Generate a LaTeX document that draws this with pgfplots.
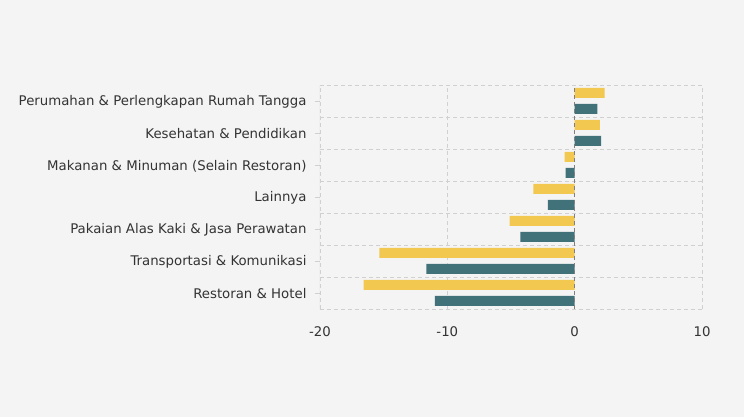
\documentclass[border=0pt]{standalone}
\usepackage{pgfplots}
\pgfplotsset{compat=1.18}
\usepackage{fontspec}
\setmainfont{DejaVu Sans}
\definecolor{bg}{RGB}{244,244,244}
\definecolor{yel}{RGB}{242,200,80}
\definecolor{tealc}{RGB}{65,114,122}
\definecolor{gridc}{RGB}{208,208,208}
\definecolor{txt}{RGB}{51,51,51}
\begin{document}
\begin{tikzpicture}[x=1pt,y=1pt]
\fill[bg] (0,0) rectangle (744,417);
\begin{axis}[at={(320pt,108pt)},anchor=south west, scale only axis,
  width=382pt, height=224pt,
  xmin=-20, xmax=10, ymin=-0.5, ymax=6.5,
  xtick={-20,-10,0,10},
  ytick={0,...,6},
  yticklabels={Restoran \& Hotel, Transportasi \& Komunikasi, Pakaian Alas Kaki \& Jasa Perawatan, Lainnya, Makanan \& Minuman (Selain Restoran), Kesehatan \& Pendidikan, Perumahan \& Perlengkapan Rumah Tangga},
  minor ytick={-0.5,0.5,...,6.5},
  xmajorgrids=true, yminorgrids=true, ymajorgrids=false,
  grid style={gridc, dash pattern=on 4pt off 3pt, line width=0.8pt},
  minor grid style={gridc, dash pattern=on 4pt off 3pt, line width=0.8pt},
  axis line style={draw=none},
  tick align=outside, ytick pos=left, xtick pos=bottom,
  major tick length=5pt, minor tick length=0pt,
  xtick style={draw=none},
  ytick style={gridc, line width=0.8pt},
  ticklabel style={font=\fontsize{13.3}{15}\selectfont, text=txt},
  /pgf/number format/assume math mode=true,
  xticklabel style={yshift=-9pt},
  yticklabel style={xshift=-5pt, yshift=-1pt},
  xbar, bar width=10pt,
]
\addplot[fill=yel, draw=none, bar shift=8pt] coordinates {
(-16.57,0) (-15.33,1) (-5.11,2) (-3.25,3) (-0.79,4) (1.97,5) (2.36,6)};
\addplot[fill=tealc, draw=none, bar shift=-8pt] coordinates {
(-10.98,0) (-11.64,1) (-4.27,2) (-2.10,3) (-0.71,4) (2.07,5) (1.78,6)};
\draw[gridc, line width=1pt] (axis cs:-20,-0.5) -- (axis cs:-20,6.5);
\draw[gray, dash pattern=on 4pt off 3pt, line width=0.8pt] (axis cs:0,-0.5) -- (axis cs:0,6.5);
\end{axis}
\end{tikzpicture}
\end{document}
